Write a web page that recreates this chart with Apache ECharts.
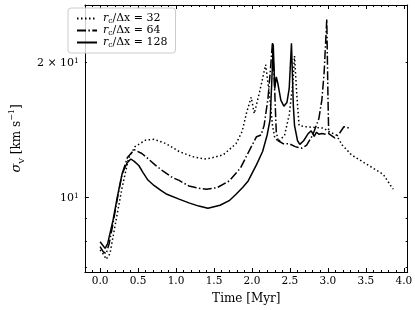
<!DOCTYPE html>
<html><head><meta charset="utf-8">
<script src="https://cdn.jsdelivr.net/npm/echarts@6/dist/echarts.min.js"></script>
<style>html,body{margin:0;padding:0;background:#fff}#c{width:415px;height:310px}</style>
</head><body><div id="c"></div>
<script>
// ---- data ----
const seriesNames = ['32', '64', '128'];
const t32 = [0, 0.05, 0.08, 0.13, 0.21, 0.29, 0.376, 0.46, 0.6, 0.71, 0.87, 1.04, 1.21, 1.37, 1.46, 1.62, 1.79, 1.87, 1.93, 1.99, 2.03, 2.1, 2.18, 2.2, 2.23, 2.27, 2.3, 2.35, 2.43, 2.49, 2.54, 2.56, 2.59, 2.62, 2.7, 2.94, 3.03, 3.11, 3.19, 3.31, 3.52, 3.73, 3.83, 3.86];
const s32 = [7.65, 7.46, 7.29, 7.5, 8.9, 10.53, 12.26, 13.0, 13.44, 13.5, 13.2, 12.68, 12.36, 12.2, 12.26, 12.46, 13.2, 14.04, 15.5, 16.75, 15.4, 17.2, 19.8, 19.95, 17.0, 14.5, 13.6, 13.34, 13.8, 15.3, 18.1, 20.7, 17.0, 14.5, 14.4, 14.3, 14.0, 13.8, 13.1, 12.46, 11.85, 11.27, 10.62, 10.45];
const t64 = [0, 0.04, 0.08, 0.12, 0.17, 0.23, 0.29, 0.36, 0.45, 0.55, 0.62, 0.72, 0.83, 0.95, 1.04, 1.17, 1.3, 1.4, 1.54, 1.7, 1.85, 1.97, 2.06, 2.12, 2.16, 2.21, 2.24, 2.27, 2.3, 2.32, 2.345, 2.41, 2.49, 2.57, 2.61, 2.655, 2.72, 2.8, 2.88, 2.92, 2.95, 2.985, 3.0, 3.01, 3.09, 3.15, 3.21, 3.28];
const s64 = [7.78, 7.58, 7.5, 7.9, 8.75, 10.0, 11.3, 12.3, 12.8, 12.55, 12.27, 11.85, 11.46, 11.1, 10.93, 10.62, 10.5, 10.45, 10.53, 10.9, 11.66, 12.79, 13.68, 13.8, 14.5, 16.6, 19.0, 22.2, 17.2, 14.0, 13.4, 13.2, 13.2, 13.0, 12.94, 12.9, 13.1, 13.8, 15.0, 16.5, 19.0, 25.0, 17.0, 13.9, 13.6, 13.9, 14.4, 14.3];
const t128 = [0, 0.067, 0.1, 0.17, 0.23, 0.29, 0.355, 0.405, 0.45, 0.51, 0.57, 0.63, 0.71, 0.8, 0.88, 1.04, 1.17, 1.3, 1.42, 1.58, 1.7, 1.79, 1.88, 1.95, 2.06, 2.14, 2.2, 2.24, 2.26, 2.28, 2.3, 2.32, 2.34, 2.38, 2.42, 2.46, 2.49, 2.52, 2.545, 2.56, 2.6, 2.63, 2.68, 2.74, 2.78, 2.82, 2.85, 2.88, 2.92, 2.97];
const s128 = [7.98, 7.71, 7.9, 8.9, 10.1, 11.3, 11.95, 12.2, 12.05, 11.8, 11.35, 10.95, 10.65, 10.38, 10.18, 9.93, 9.74, 9.58, 9.47, 9.62, 9.85, 10.18, 10.55, 10.9, 11.85, 12.68, 13.8, 15.0, 18.0, 22.0, 17.5, 18.6, 18.0, 16.5, 16.0, 16.3, 17.5, 22.1, 16.0, 14.5, 13.4, 13.15, 13.4, 13.9, 14.1, 13.7, 14.0, 13.85, 13.9, 13.85];
const xMajorTicks = [0, 0.5, 1, 1.5, 2, 2.5, 3, 3.5, 4];
const xMinorTicks = [-0.1, 0.1, 0.2, 0.3, 0.4, 0.6, 0.7, 0.8, 0.9, 1.1, 1.2, 1.3, 1.4, 1.6, 1.7, 1.8, 1.9, 2.1, 2.2, 2.3, 2.4, 2.6, 2.7, 2.8, 2.9, 3.1, 3.2, 3.3, 3.4, 3.6, 3.7, 3.8, 3.9];
const yLabelTicks = [10, 20];
const yMajorTicks = [10];
const yMinorTicks = [7, 8, 9, 20];

// ---- chart ----
const XMIN = -0.2, XMAX = 4.05, YMIN = 6.83, YMAX = 26.9;
const FONT = 'DejaVu Serif';
const styles = [
  { color: '#000', width: 1.5, type: [1.5, 2.5] },
  { color: '#000', width: 1.5, type: [9, 2.4, 1.5, 2.4] },
  { color: '#000', width: 1.5, type: 'solid' }
];
const tList = [t32, t64, t128], sList = [s32, s64, s128];

function xAx(pos, ticks, len, withLine, withLabel) {
  const a = {
    type: 'value', min: XMIN, max: XMAX, position: pos,
    axisLine: { show: withLine, onZero: false, lineStyle: { color: '#000', width: 1 } },
    axisTick: { show: true, inside: true, length: len, customValues: ticks, lineStyle: { color: '#000', width: 1 } },
    axisLabel: { show: withLabel, customValues: ticks, formatter: v => Number(v).toFixed(1), fontFamily: FONT, fontSize: 10.5, color: '#000', margin: 4 },
    splitLine: { show: false }
  };
  if (withLabel) {
    a.name = 'Time [Myr]'; a.nameLocation = 'middle'; a.nameGap = 21;
    a.nameTextStyle = { fontFamily: FONT, fontSize: 12, color: '#000' };
  }
  return a;
}
function yAx(pos, ticks, len, withLine, withLabel) {
  const a = {
    type: 'log', logBase: 10, min: YMIN, max: YMAX, position: pos,
    axisLine: { show: withLine, onZero: false, lineStyle: { color: '#000', width: 1 } },
    axisTick: { show: true, inside: true, length: len, customValues: ticks, lineStyle: { color: '#000', width: 1 } },
    axisLabel: {
      show: withLabel, customValues: yLabelTicks,
      formatter: v => (Math.round(v) === 10 ? '10{sup|1}' : '2 × 10{sup|1}'),
      fontFamily: FONT, fontSize: 11, color: '#000', margin: 6,
      rich: { sup: { fontFamily: FONT, fontSize: 7.5, verticalAlign: 'top', color: '#000' } }
    },
    splitLine: { show: false }, minorTick: { show: false }
  };
  if (withLabel) {
    a.name = '{i|σ}{sub|V} [km s{sup|−1}]';
    a.nameLocation = 'middle'; a.nameGap = 45; a.nameRotate = 90;
    a.nameTextStyle = {
      fontFamily: FONT, fontSize: 12, color: '#000',
      rich: {
        i: { fontFamily: FONT, fontStyle: 'italic', fontSize: 13, color: '#000', lineHeight: 18 },
        sub: { fontFamily: FONT, fontSize: 8, verticalAlign: 'bottom', color: '#000', lineHeight: 18 },
        sup: { fontFamily: FONT, fontSize: 8, verticalAlign: 'top', color: '#000', lineHeight: 18 }
      }
    };
  }
  return a;
}

const chart = echarts.init(document.getElementById('c'), null, { renderer: 'canvas' });
chart.setOption({
  animation: false,
  backgroundColor: '#fff',
  grid: { left: 66, right: 6, top: 5, bottom: 35, containLabel: false },
  xAxis: [
    xAx('bottom', xMajorTicks, 4, true, true),
    xAx('top', xMajorTicks, 4, true, false),
    xAx('bottom', xMinorTicks, 2, false, false),
    xAx('top', xMinorTicks, 2, false, false)
  ],
  yAxis: [
    yAx('left', yMajorTicks, 4, true, true),
    yAx('right', yMajorTicks, 4, true, false),
    yAx('left', yMinorTicks, 2, false, false),
    yAx('right', yMinorTicks, 2, false, false)
  ],
  legend: {
    orient: 'vertical', left: 68, top: 8,
    padding: [5, 8, 4, 8], itemGap: 0, itemWidth: 20, itemHeight: 11,
    borderColor: '#ccc', borderWidth: 1, borderRadius: 3, backgroundColor: 'rgba(255,255,255,0.8)',
    data: seriesNames,
    itemStyle: { opacity: 0 },
    formatter: n => '{i|r}{sub|c}/Δx = ' + n,
    textStyle: {
      fontFamily: FONT, fontSize: 11, color: '#000', padding: [0, 0, 0, 1],
      rich: {
        i: { fontFamily: FONT, fontStyle: 'italic', fontSize: 11, color: '#000', lineHeight: 13 },
        sub: { fontFamily: FONT, fontSize: 7.5, verticalAlign: 'bottom', color: '#000', lineHeight: 13 }
      }
    }
  },
  series: seriesNames.map((n, k) => ({
    type: 'line', name: n, xAxisIndex: 0, yAxisIndex: 0,
    data: tList[k].map((t, i) => [t, sList[k][i]]),
    symbol: 'none', showSymbol: false, smooth: false,
    lineStyle: styles[k], itemStyle: { color: '#000' }, z: 3 - k
  }))
});
</script>
</body></html>
